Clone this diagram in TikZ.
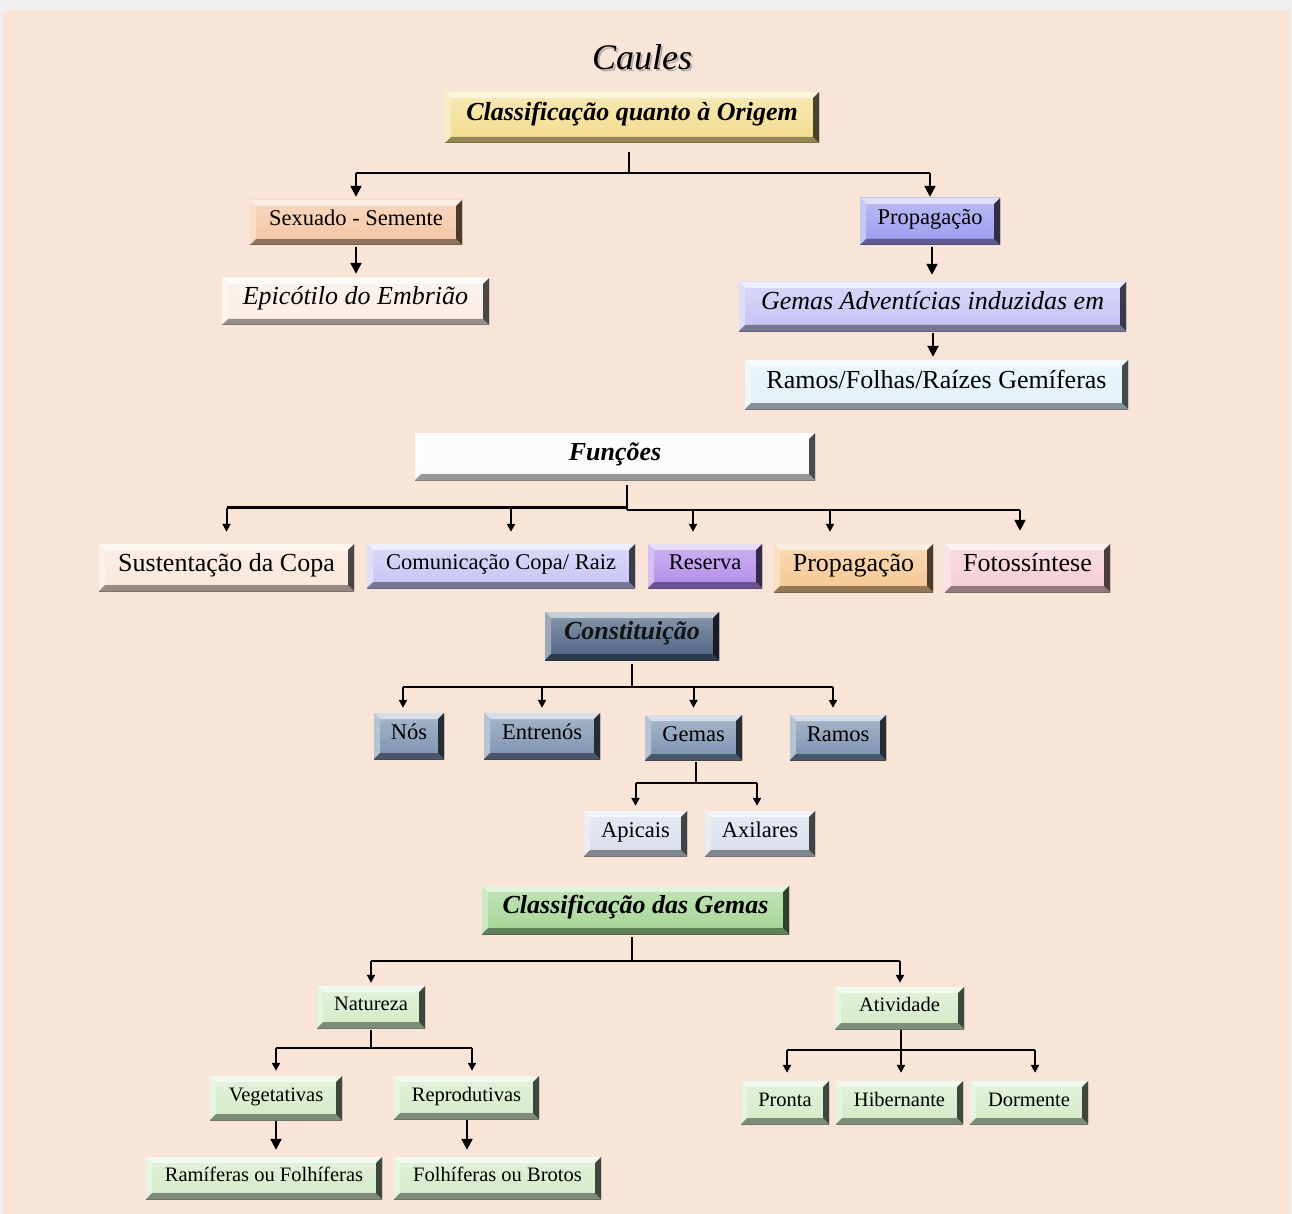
\documentclass[tikz,border=0pt]{standalone}
\usepackage{fontspec}
\setmainfont{Liberation Serif}
\usetikzlibrary{arrows.meta,calc}
\definecolor{bgpeach}{HTML}{F9E4D8}
\definecolor{topgrey}{HTML}{EFEFEF}
\definecolor{cOrig}{HTML}{F3DC8E}
\definecolor{cSex}{HTML}{F4C4A0}
\definecolor{cEpic}{HTML}{FAEDE4}
\definecolor{cProp}{HTML}{9A99EE}
\definecolor{cAdv}{HTML}{C4C3F4}
\definecolor{cRam}{HTML}{E0F1F7}
\definecolor{cFun}{HTML}{FDFBFA}
\definecolor{cSus}{HTML}{FAE6D9}
\definecolor{cCom}{HTML}{C6C5F5}
\definecolor{cRes}{HTML}{B28BEA}
\definecolor{cPro2}{HTML}{F6C690}
\definecolor{cFot}{HTML}{F5CCD3}
\definecolor{cCon}{HTML}{4A6180}
\definecolor{cSlate}{HTML}{7A91AE}
\definecolor{cApi}{HTML}{D9DFEB}
\definecolor{cCG}{HTML}{A3D593}
\definecolor{cNat}{HTML}{D3EBC6}
\begin{document}
\begin{tikzpicture}[x=1pt,y=-1pt,
  bev/.style={rectangle, inner sep=0pt, text height=0.72em, text depth=0.02em,
    top color=#1!65!white, bottom color=#1, draw=none,
    path picture={
      \coordinate (pnw) at (path picture bounding box.north west);
      \coordinate (pne) at (path picture bounding box.north east);
      \coordinate (psw) at (path picture bounding box.south west);
      \coordinate (pse) at (path picture bounding box.south east);
      \fill[#1!30!white] (pnw) -- (pne) -- ([xshift=-6pt,yshift=-6pt]pne) -- ([xshift=6pt,yshift=-6pt]pnw) -- cycle;
      \fill[#1!55!white] (pnw) -- ([xshift=6pt,yshift=-6pt]pnw) -- ([xshift=6pt,yshift=6pt]psw) -- (psw) -- cycle;
      \fill[#1!60!black] (psw) -- (pse) -- ([xshift=-6pt,yshift=6pt]pse) -- ([xshift=6pt,yshift=6pt]psw) -- cycle;
      \fill[#1!30!black] (pne) -- ([xshift=-6pt,yshift=-6pt]pne) -- ([xshift=-6pt,yshift=6pt]pse) -- (pse) -- cycle;
      \draw[#1!50!black, line width=1pt] (psw) -- (pse) -- (pne);
    }},
  fA/.style={font=\fontsize{26}{30}\selectfont},
  fAi/.style={font=\fontsize{26}{30}\selectfont\itshape},
  fAbi/.style={font=\fontsize{26}{30}\selectfont\bfseries\itshape},
  fB/.style={font=\fontsize{22.5}{26}\selectfont},
  fC/.style={font=\fontsize{20.5}{24}\selectfont},
  ln/.style={line width=2.2pt, black},
  arr/.style={line width=2pt, black, -{Triangle[length=8pt,width=8pt]}},
  bigarr/.style={line width=2.2pt, black, -{Triangle[length=11pt,width=11pt]}}
]
\useasboundingbox (0,0) rectangle (1292,1214);
\fill[topgrey] (0,0) rectangle (1292,1214);
\fill[bgpeach] (3,10) rectangle (1290,1214);

% title
\node[font=\fontsize{36}{40}\selectfont\itshape, text=black!45, opacity=0.6] (caulesS) at (644,59) {Caules};
\node[font=\fontsize{36}{40}\selectfont\itshape] (caules) at (642,57) {Caules};

% origem
\node[bev=cOrig, fAbi, minimum width=374pt, minimum height=51pt] (origem) at (632,117.5) {Classificação quanto à Origem};
\node[bev=cSex, fB, minimum width=212pt, minimum height=45pt] (sexuado) at (356,222.5) {Sexuado - Semente};
\node[bev=cEpic, fAi, minimum width=267pt, minimum height=47pt] (epic) at (355.5,301.5) {Epicótilo do Embrião};
\node[bev=cProp, fB, minimum width=140pt, minimum height=47pt] (prop1) at (930,221.5) {Propagação};
\node[bev=cAdv, fAi, minimum width=387pt, minimum height=49pt] (gemadv) at (932.5,306.5) {Gemas Adventícias induzidas em};
\node[bev=cRam, fA, minimum width=383pt, minimum height=49pt] (ramfol) at (936.5,384.5) {Ramos/Folhas/Raízes Gemíferas};

% funcoes
\node[bev=cFun, fAbi, minimum width=400pt, minimum height=47pt] (funcoes) at (615,456.5) {Funções};
\node[bev=cSus, fA, minimum width=255pt, minimum height=47pt] (sust) at (226.5,567.5) {Sustentação da Copa};
\node[bev=cCom, fB, minimum width=268pt, minimum height=44pt] (comun) at (501,566) {Comunicação Copa/ Raiz};
\node[bev=cRes, fB, minimum width=114pt, minimum height=44pt] (reserva) at (705,566) {Reserva};
\node[bev=cPro2, fA, minimum width=159pt, minimum height=48pt] (prop2) at (853.5,568) {Propagação};
\node[bev=cFot, fA, minimum width=165pt, minimum height=48pt] (foto) at (1027.5,568) {Fotossíntese};

% constituicao
\node[bev=cCon, fAbi, text=black!92, minimum width=174pt, minimum height=48pt] (const) at (632,636) {Constituição};
\node[bev=cSlate, fB, minimum width=70pt, minimum height=46pt] (nos) at (409,736) {Nós};
\node[bev=cSlate, fB, minimum width=116pt, minimum height=46pt] (entr) at (542,736) {Entrenós};
\node[bev=cSlate, fB, minimum width=97pt, minimum height=45pt] (gemas) at (693.5,737.5) {Gemas};
\node[bev=cSlate, fB, minimum width=96pt, minimum height=45pt] (ramos) at (838,737.5) {Ramos};
\node[bev=cApi, fB, minimum width=103pt, minimum height=45pt] (apic) at (635.5,833.5) {Apicais};
\node[bev=cApi, fB, minimum width=110pt, minimum height=45pt] (axil) at (760,833.5) {Axilares};

% classificacao das gemas
\node[bev=cCG, fAbi, minimum width=307pt, minimum height=48pt] (classg) at (635.5,910) {Classificação das Gemas};
\node[bev=cNat, fC, minimum width=108pt, minimum height=42pt] (nat) at (371,1007) {Natureza};
\node[bev=cNat, fC, minimum width=129pt, minimum height=42pt] (ativ) at (899.5,1008) {Atividade};
\node[bev=cNat, fC, minimum width=132pt, minimum height=44pt] (veg) at (276,1098) {Vegetativas};
\node[bev=cNat, fC, minimum width=145pt, minimum height=43pt] (repr) at (466.5,1097.5) {Reprodutivas};
\node[bev=cNat, fC, minimum width=236pt, minimum height=42pt] (ramif) at (264,1178) {Ramíferas ou Folhíferas};
\node[bev=cNat, fC, minimum width=207pt, minimum height=42pt] (folhi) at (497.5,1178) {Folhíferas ou Brotos};
\node[bev=cNat, fC, minimum width=88pt, minimum height=43pt] (pronta) at (785,1102.5) {Pronta};
\node[bev=cNat, fC, minimum width=127pt, minimum height=43pt] (hib) at (899.5,1102.5) {Hibernante};
\node[bev=cNat, fC, minimum width=118pt, minimum height=43pt] (dorm) at (1029,1102.5) {Dormente};

% ---- connectors: origem
\coordinate (o1) at (629,173);
\draw[ln, shorten <=9pt] (origem.south -| o1) -- (o1);
\draw[ln] (sexuado.north |- o1) -- (prop1.north |- o1);
\draw[bigarr, shorten >=3pt] (sexuado.north |- o1) -- (sexuado.north);
\draw[bigarr, shorten >=1pt] (prop1.north |- o1) -- (prop1.north);
\draw[bigarr, shorten <=2pt, shorten >=4pt] (sexuado.south) -- (sexuado.south |- epic.north);
\draw[bigarr, shorten <=2pt, shorten >=7pt] ([xshift=2pt]prop1.south) -- ([xshift=2pt]prop1.south |- gemadv.north);
\draw[bigarr, shorten <=2pt, shorten >=3pt] ([xshift=0.5pt]gemadv.south) -- ([xshift=0.5pt]gemadv.south |- ramfol.north);

% ---- funcoes
\coordinate (fL) at (627,507.5);
\coordinate (fR) at (627,510);
\draw[ln, shorten <=5pt] (funcoes.south -| fR) -- (fR);
\draw[ln] (sust.north |- fL) -- (fL);
\draw[ln] (fR) -- ([xshift=-7.5pt]foto.north |- fR);
\draw[arr, shorten >=12pt] (sust.north |- fL) -- (sust.north);
\draw[arr, shorten >=12pt] ([xshift=10pt]comun.north |- fL) -- ([xshift=10pt]comun.north);
\draw[arr, shorten >=12pt] ([xshift=-12pt]reserva.north |- fR) -- ([xshift=-12pt]reserva.north);
\draw[arr, shorten >=12pt] ([xshift=-23.5pt]prop2.north |- fR) -- ([xshift=-23.5pt]prop2.north);
\draw[bigarr, shorten >=13pt] ([xshift=-7.5pt]foto.north |- fR) -- ([xshift=-7.5pt]foto.north);

% ---- constituicao
\coordinate (c1) at (632,687);
\draw[ln, shorten <=4pt] (const.south) -- (c1);
\draw[ln] ([xshift=-6pt]nos.north |- c1) -- ([xshift=-5pt]ramos.north |- c1);
\draw[arr, shorten >=5pt] ([xshift=-6pt]nos.north |- c1) -- ([xshift=-6pt]nos.north);
\draw[arr, shorten >=5pt] (entr.north |- c1) -- (entr.north);
\draw[arr, shorten >=7pt] (gemas.north |- c1) -- (gemas.north);
\draw[arr, shorten >=7pt] ([xshift=-5pt]ramos.north |- c1) -- ([xshift=-5pt]ramos.north);

% ---- gemas
\coordinate (g1) at (696,783);
\draw[ln, shorten <=2pt] (gemas.south -| g1) -- (g1);
\draw[ln] (apic.north |- g1) -- ([xshift=-3pt]axil.north |- g1);
\draw[arr, shorten >=5pt] (apic.north |- g1) -- (apic.north);
\draw[arr, shorten >=5pt] ([xshift=-3pt]axil.north |- g1) -- ([xshift=-3pt]axil.north);

% ---- classificacao das gemas
\coordinate (cg1) at (632,961);
\draw[ln, shorten <=3pt] (classg.south -| cg1) -- (cg1);
\draw[ln] (nat.north |- cg1) -- ([xshift=0.5pt]ativ.north |- cg1);
\draw[arr, shorten >=3pt] (nat.north |- cg1) -- (nat.north);
\draw[arr, shorten >=4pt] ([xshift=0.5pt]ativ.north |- cg1) -- ([xshift=0.5pt]ativ.north);

% natureza
\coordinate (n1) at (371,1048);
\draw[ln, shorten <=2pt] (nat.south) -- (n1);
\draw[ln] (veg.north |- n1) -- ([xshift=5.5pt]repr.north |- n1);
\draw[arr, shorten >=5pt] (veg.north |- n1) -- (veg.north);
\draw[arr, shorten >=5pt] ([xshift=5.5pt]repr.north |- n1) -- ([xshift=5.5pt]repr.north);
\draw[bigarr, shorten <=1pt, shorten >=7pt] (veg.south) -- (veg.south |- ramif.north);
\draw[bigarr, shorten <=1pt, shorten >=7pt] ([xshift=0.5pt]repr.south) -- ([xshift=0.5pt]repr.south |- folhi.north);

% atividade
\coordinate (a1) at (901,1050);
\draw[ln, shorten <=1pt] (ativ.south -| a1) -- (a1);
\draw[ln] ([xshift=2pt]pronta.north |- a1) -- ([xshift=6pt]dorm.north |- a1);
\draw[arr, shorten >=8pt] ([xshift=2pt]pronta.north |- a1) -- ([xshift=2pt]pronta.north);
\draw[arr, shorten >=8pt] (a1) -- (a1 |- hib.north);
\draw[arr, shorten >=8pt] ([xshift=6pt]dorm.north |- a1) -- ([xshift=6pt]dorm.north);
\end{tikzpicture}
\end{document}
